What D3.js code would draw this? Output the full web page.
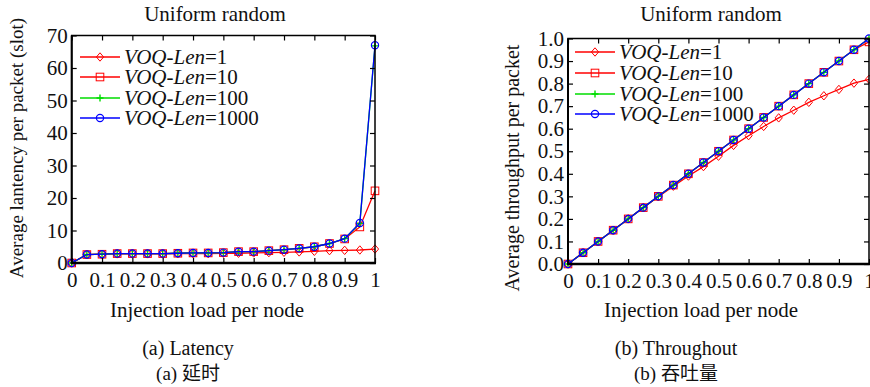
<!DOCTYPE html>
<html><head><meta charset="utf-8">
<script src="https://cdn.jsdelivr.net/npm/d3@7"></script>
<style>body{margin:0;background:#fff}svg{display:block}text{font-family:"Liberation Serif","Times New Roman",serif;fill:#111}</style>
</head><body><svg id="c" width="870" height="387"></svg>
<script>
const loads = [0,0.05,0.1,0.15,0.2,0.25,0.3,0.35,0.4,0.45,0.5,0.55,0.6,0.65,0.7,0.75,0.8,0.85,0.9,0.95,1];
const seriesNames = ["1","10","100","1000"];
const latLen1    = [0,2.6,2.7,2.8,2.8,2.8,2.8,2.9,2.9,2.9,3.0,3.0,3.1,3.2,3.3,3.4,3.6,3.8,3.9,4.0,4.3];
const latLen10   = [0,2.6,2.7,2.9,2.9,2.9,2.9,3.0,3.1,3.1,3.2,3.5,3.5,3.8,4.1,4.5,5.0,6.0,7.4,11.1,22.2];
const latLen100  = [0,2.6,2.7,2.9,2.9,2.9,2.9,3.0,3.1,3.1,3.2,3.5,3.5,3.8,4.1,4.5,5.0,6.0,7.5,12.2,66.8];
const latLen1000 = [0,2.6,2.7,2.9,2.9,2.9,2.9,3.0,3.1,3.1,3.2,3.5,3.5,3.8,4.1,4.5,5.0,6.0,7.5,12.3,67.0];
const thrLen1    = [0,0.05,0.1,0.15,0.2,0.25,0.298,0.345,0.39,0.432,0.478,0.526,0.569,0.61,0.648,0.682,0.717,0.746,0.774,0.802,0.819];
const thrLen10   = [0,0.05,0.1,0.15,0.2,0.25,0.3,0.35,0.4,0.45,0.5,0.55,0.6,0.65,0.7,0.75,0.8,0.85,0.9,0.95,0.985];
const thrLen100  = [0,0.05,0.1,0.15,0.2,0.25,0.3,0.35,0.4,0.45,0.5,0.55,0.6,0.65,0.7,0.75,0.8,0.85,0.9,0.95,1.0];
const thrLen1000 = [0,0.05,0.1,0.15,0.2,0.25,0.3,0.35,0.4,0.45,0.5,0.55,0.6,0.65,0.7,0.75,0.8,0.85,0.9,0.95,1.0];
const xTicks = [0,0.1,0.2,0.3,0.4,0.5,0.6,0.7,0.8,0.9,1];
const latTicks = [0,10,20,30,40,50,60,70];
const thrTicks = [0,0.1,0.2,0.3,0.4,0.5,0.6,0.7,0.8,0.9,1.0];

const svg = d3.select("#c");
const colors = ["#ff0000","#ff0000","#00dd00","#0000ff"];
const markers = ["diamond","square","plus","circle"];

function marker(g, type, color, x, y){
  if(type==="diamond"){
    g.append("path").attr("d",`M${x},${y-4.2}L${x+3.6},${y}L${x},${y+4.2}L${x-3.6},${y}Z`).attr("fill","none").attr("stroke",color).attr("stroke-width",1);
  } else if(type==="square"){
    g.append("rect").attr("x",x-3.8).attr("y",y-3.8).attr("width",7.6).attr("height",7.6).attr("fill","none").attr("stroke",color).attr("stroke-width",1);
  } else if(type==="plus"){
    g.append("path").attr("d",`M${x-3.5},${y}H${x+3.5}M${x},${y-3.5}V${y+3.5}`).attr("stroke",color).attr("stroke-width",1.4);
  } else {
    g.append("circle").attr("cx",x).attr("cy",y).attr("r",3.6).attr("fill","none").attr("stroke",color).attr("stroke-width",1.2);
  }
}

function panel(o){
  const g = svg.append("g");
  const x = d3.scaleLinear().domain([0,1]).range([o.x0,o.x1]);
  const y = d3.scaleLinear().domain(o.ydom).range([o.y0,o.y1]);
  o.series.forEach((vals,i)=>{
    const line = d3.line().x((d,j)=>x(loads[j])).y(d=>y(d));
    g.append("path").datum(vals).attr("d",line).attr("fill","none").attr("stroke",colors[i]).attr("stroke-width",1.3);
    vals.forEach((v,j)=>marker(g,markers[i],colors[i],x(loads[j]),y(v)));
  });
  g.append("rect").attr("x",o.x0).attr("y",o.y1).attr("width",o.x1-o.x0).attr("height",o.y0-o.y1).attr("fill","none").attr("stroke","#000").attr("stroke-width",1.5);
  g.append("line").attr("x1",o.x0-1).attr("x2",o.x1+1).attr("y1",o.y0).attr("y2",o.y0).attr("stroke","#000").attr("stroke-width",2.5);
  g.append("line").attr("x1",o.x0).attr("x2",o.x0).attr("y1",o.y0).attr("y2",o.y1).attr("stroke","#000").attr("stroke-width",2);
  const bx = d3.axisBottom(x).tickValues(xTicks).tickSize(-5).tickPadding(9).tickFormat(d3.format("~g"));
  const tx = d3.axisTop(x).tickValues(xTicks).tickSize(-5).tickFormat("");
  const ly = d3.axisLeft(y).tickValues(o.yticks).tickSize(-5).tickPadding(o.ypad).tickFormat(o.yfmt);
  const ry = d3.axisRight(y).tickValues(o.yticks).tickSize(-5).tickFormat("");
  [[bx,`translate(0,${o.y0})`],[tx,`translate(0,${o.y1})`],[ly,`translate(${o.x0},0)`],[ry,`translate(${o.x1},0)`]].forEach(([ax,t])=>{
    const a = g.append("g").attr("transform",t).call(ax);
    a.select(".domain").remove();
    a.selectAll("line").attr("stroke","#000").attr("stroke-width",1.2);
    a.selectAll("text").attr("font-size",21).style("font-family",'"Liberation Serif",serif').attr("fill","#111");
  });
  g.append("text").attr("x",o.tx).attr("y",21).attr("text-anchor","middle").attr("font-size",21).text("Uniform random");
  g.append("text").attr("x",o.xlx).attr("y",317).attr("text-anchor","middle").attr("font-size",21).text("Injection load per node");
  g.append("text").attr("transform",`translate(${o.ylx},${o.yly}) rotate(-90)`).attr("text-anchor","middle").attr("font-size",o.ylfs).text(o.ylabel);
  o.legY.forEach((ly_,i)=>{
    g.append("line").attr("x1",o.legX).attr("x2",o.legX+40).attr("y1",ly_).attr("y2",ly_).attr("stroke",colors[i]).attr("stroke-width",1.5);
    marker(g,markers[i],colors[i],o.legX+20,ly_);
    const t = g.append("text").attr("x",o.legX+44).attr("y",ly_+7).attr("font-size",21);
    t.append("tspan").attr("font-style","italic").text("VOQ-Len");
    t.append("tspan").text("="+seriesNames[i]);
  });
  g.append("text").attr("x",o.cx).attr("y",355).attr("text-anchor","middle").attr("font-size",20).text(o.cap1);
  g.append("text").attr("x",o.cx).attr("y",380).attr("text-anchor","middle").attr("font-size",19).style("font-family",'"Liberation Serif","Noto Sans CJK SC",serif').text(o.cap2);
}

panel({x0:71.7,x1:375,y0:263,y1:35.5,ydom:[0,70],yticks:latTicks,yfmt:d3.format("d"),ypad:4,
  series:[latLen1,latLen10,latLen100,latLen1000],tx:215,xlx:207,ylx:23,yly:148,ylfs:19,
  ylabel:"Average lantency per packet (slot)",legX:80,legY:[57,77,98,118],
  cx:188,cap1:"(a) Latency",cap2:"(a)  延时"});
panel({x0:568,x1:869,y0:264,y1:38.5,ydom:[0,1],yticks:thrTicks,yfmt:d3.format(".1f"),ypad:4,
  series:[thrLen1,thrLen10,thrLen100,thrLen1000],tx:711,xlx:701,ylx:519,yly:168,ylfs:20,
  ylabel:"Average throughput per packet",legX:575,legY:[52,73,94,114],
  cx:676,cap1:"(b) Throughout",cap2:"(b)  吞吐量"});
</script></body></html>
